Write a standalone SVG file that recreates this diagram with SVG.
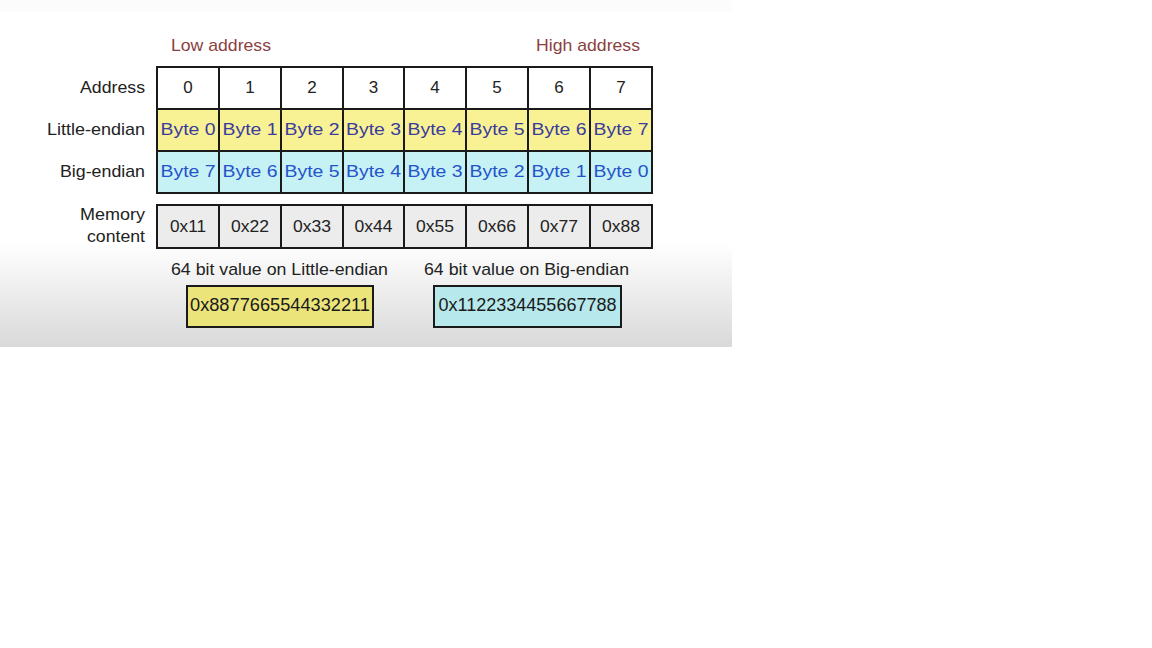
<svg xmlns="http://www.w3.org/2000/svg" width="1152" height="648" viewBox="0 0 1152 648">
<defs>
<linearGradient id="bg" x1="0" y1="0" x2="0" y2="1">
<stop offset="0" stop-color="#ffffff"/>
<stop offset="0.7" stop-color="#ffffff"/>
<stop offset="1" stop-color="#d9d9d9"/>
</linearGradient>
<style>
text{font-family:"Liberation Sans",Arial,sans-serif;font-size:17px;fill:#222}
.lbl{text-anchor:end}
.c{text-anchor:middle}
.hdr{fill:#8b3f3f}
.le{fill:#3b3b9c;font-size:16.5px}
.be{fill:#2553c9;font-size:16.5px}
.cell{stroke:#1a1a1a;stroke-width:2}
.val{font-size:18px;fill:#1a1a1a}
</style>
</defs>
<rect x="0" y="0" width="1152" height="648" fill="#ffffff"/>
<rect x="0" y="0" width="732" height="347" fill="url(#bg)"/>
<rect x="0" y="0" width="732" height="12" fill="#fcfcfc"/>

<g id="headers">
<text class="hdr" x="171" y="51" textLength="100" lengthAdjust="spacingAndGlyphs">Low address</text>
<text class="hdr" x="536" y="51" textLength="104" lengthAdjust="spacingAndGlyphs">High address</text>
</g>

<g id="row-labels">
<text class="lbl" x="145" y="93" textLength="65" lengthAdjust="spacingAndGlyphs">Address</text>
<text class="lbl" x="145" y="135" textLength="98" lengthAdjust="spacingAndGlyphs">Little-endian</text>
<text class="lbl" x="145" y="177" textLength="85" lengthAdjust="spacingAndGlyphs">Big-endian</text>
<text class="lbl" x="145" y="220" textLength="65" lengthAdjust="spacingAndGlyphs">Memory</text>
<text class="lbl" x="145" y="242" textLength="58" lengthAdjust="spacingAndGlyphs">content</text>
</g>

<g id="address-row">
<rect x="157" y="67" width="495" height="42" fill="#ffffff"/>
<text class="c" x="188" y="93">0</text>
<text class="c" x="250" y="93">1</text>
<text class="c" x="312" y="93">2</text>
<text class="c" x="373.5" y="93">3</text>
<text class="c" x="435" y="93">4</text>
<text class="c" x="497" y="93">5</text>
<text class="c" x="559" y="93">6</text>
<text class="c" x="621" y="93">7</text>
</g>

<g id="little-endian-row">
<rect x="157" y="109" width="495" height="42" fill="#f8f294"/>
<text class="c le" x="188" y="135" textLength="55" lengthAdjust="spacingAndGlyphs">Byte 0</text>
<text class="c le" x="250" y="135" textLength="55" lengthAdjust="spacingAndGlyphs">Byte 1</text>
<text class="c le" x="312" y="135" textLength="55" lengthAdjust="spacingAndGlyphs">Byte 2</text>
<text class="c le" x="373.5" y="135" textLength="55" lengthAdjust="spacingAndGlyphs">Byte 3</text>
<text class="c le" x="435" y="135" textLength="55" lengthAdjust="spacingAndGlyphs">Byte 4</text>
<text class="c le" x="497" y="135" textLength="55" lengthAdjust="spacingAndGlyphs">Byte 5</text>
<text class="c le" x="559" y="135" textLength="55" lengthAdjust="spacingAndGlyphs">Byte 6</text>
<text class="c le" x="621" y="135" textLength="55" lengthAdjust="spacingAndGlyphs">Byte 7</text>
</g>

<g id="big-endian-row">
<rect x="157" y="151" width="495" height="42" fill="#c6f1f5"/>
<text class="c be" x="188" y="177" textLength="55" lengthAdjust="spacingAndGlyphs">Byte 7</text>
<text class="c be" x="250" y="177" textLength="55" lengthAdjust="spacingAndGlyphs">Byte 6</text>
<text class="c be" x="312" y="177" textLength="55" lengthAdjust="spacingAndGlyphs">Byte 5</text>
<text class="c be" x="373.5" y="177" textLength="55" lengthAdjust="spacingAndGlyphs">Byte 4</text>
<text class="c be" x="435" y="177" textLength="55" lengthAdjust="spacingAndGlyphs">Byte 3</text>
<text class="c be" x="497" y="177" textLength="55" lengthAdjust="spacingAndGlyphs">Byte 2</text>
<text class="c be" x="559" y="177" textLength="55" lengthAdjust="spacingAndGlyphs">Byte 1</text>
<text class="c be" x="621" y="177" textLength="55" lengthAdjust="spacingAndGlyphs">Byte 0</text>
</g>

<g id="grid-lines" fill="none" class="cell">
<rect x="157" y="67" width="495" height="126"/>
<path d="M157 109H652M157 151H652M219 67V193M281 67V193M343 67V193M404 67V193M466 67V193M528 67V193M590 67V193"/>
</g>

<g id="memory-row">
<rect x="157" y="205" width="495" height="43" fill="#ececec" class="cell"/>
<path class="cell" fill="none" d="M219 205V248M281 205V248M343 205V248M404 205V248M466 205V248M528 205V248M590 205V248"/>
<text class="c" x="188" y="232" textLength="36" lengthAdjust="spacingAndGlyphs">0x11</text>
<text class="c" x="250" y="232" textLength="38" lengthAdjust="spacingAndGlyphs">0x22</text>
<text class="c" x="312" y="232" textLength="38" lengthAdjust="spacingAndGlyphs">0x33</text>
<text class="c" x="373.5" y="232" textLength="38" lengthAdjust="spacingAndGlyphs">0x44</text>
<text class="c" x="435" y="232" textLength="38" lengthAdjust="spacingAndGlyphs">0x55</text>
<text class="c" x="497" y="232" textLength="38" lengthAdjust="spacingAndGlyphs">0x66</text>
<text class="c" x="559" y="232" textLength="38" lengthAdjust="spacingAndGlyphs">0x77</text>
<text class="c" x="621" y="232" textLength="38" lengthAdjust="spacingAndGlyphs">0x88</text>
</g>

<g id="little-endian-value">
<text x="171" y="275" textLength="217" lengthAdjust="spacingAndGlyphs">64 bit value on Little-endian</text>
<rect x="187" y="286" width="186" height="41" fill="#ebe47a" class="cell"/>
<text class="c val" x="280" y="311" textLength="180" lengthAdjust="spacingAndGlyphs">0x8877665544332211</text>
</g>

<g id="big-endian-value">
<text x="424" y="275" textLength="205" lengthAdjust="spacingAndGlyphs">64 bit value on Big-endian</text>
<rect x="434" y="286" width="187" height="41" fill="#b6e8ec" class="cell"/>
<text class="c val" x="527.5" y="311" textLength="178" lengthAdjust="spacingAndGlyphs">0x1122334455667788</text>
</g>
</svg>
